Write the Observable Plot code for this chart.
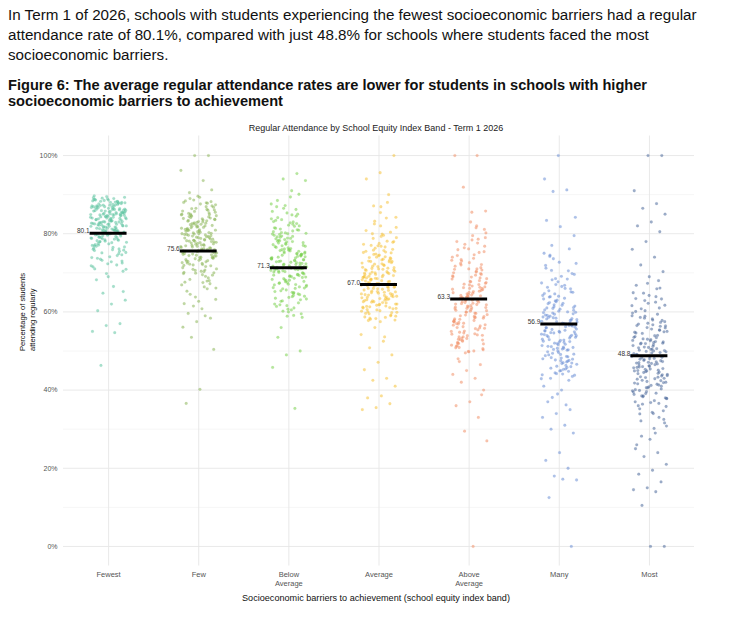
<!DOCTYPE html>
<html>
<head>
<meta charset="utf-8">
<script src="https://cdn.jsdelivr.net/npm/d3@7"></script>
<script src="https://cdn.jsdelivr.net/npm/@observablehq/plot@0.6"></script>
<style>
  body { margin: 0; background: #fff; width: 750px; height: 623px; position: relative; overflow: hidden; }
  #para { position: absolute; left: 8px; top: 5px; font: 15.2px "Liberation Sans", Arial, sans-serif; line-height: 20px; color: #111; }
  #ftitle { position: absolute; left: 8px; top: 77px; font: bold 14.6px "Liberation Sans", Arial, sans-serif; line-height: 16px; color: #111; }
  #chart { position: absolute; left: 0; top: 112px; }
</style>
</head>
<body>
<div id="para">In Term 1 of 2026, schools with students experiencing the fewest socioeconomic barriers had a regular<br>attendance rate of 80.1%, compared with just 48.8% for schools where students faced the most<br>socioeconomic barriers.</div>
<div id="ftitle">Figure 6: The average regular attendance rates are lower for students in schools with higher<br>socioeconomic barriers to achievement</div>
<div id="chart"></div>
<script>
const categories = ["Fewest", "Few", "Below\nAverage", "Average", "Above\nAverage", "Many", "Most"];
const colors = ["#5fc4a0", "#8cb75a", "#7ad14e", "#f5c23a", "#f0926a", "#6c8fd6", "#4d6b9c"];
const means = [80.1, 75.6, 71.3, 67.0, 63.3, 56.9, 48.8];
const yTicks = [0, 20, 40, 60, 80, 100];
const yMinor = [10, 30, 50, 70, 90];

const fewest = [84.2, 87.5, 79.1, 82.6, 88.9, 76.3, 85.4, 81.0, 89.3, 83.7,
78.2, 86.1, 80.5, 73.9, 84.8, 87.2, 82.1, 77.4, 85.9, 88.3,
81.6, 75.2, 83.3, 86.7, 79.8, 84.0, 71.5, 88.1, 82.9, 80.2,
85.1, 76.8, 87.9, 83.0, 78.9, 86.4, 81.3, 74.6, 84.5, 89.7,
82.4, 79.5, 85.6, 72.8, 87.0, 83.9, 80.8, 77.0, 86.2, 84.3,
70.4, 81.9, 88.6, 78.5, 85.2, 82.0, 75.9, 87.6, 83.5, 80.0,
86.9, 79.3, 73.2, 84.7, 88.0, 81.4, 76.1, 85.8, 82.7, 89.0,
78.0, 83.1, 86.5, 71.0, 80.6, 87.3, 84.1, 77.7, 82.3, 85.0,
69.8, 88.4, 81.7, 79.0, 86.0, 74.1, 83.6, 87.8, 80.3, 84.9,
76.5, 82.8, 85.5, 72.3, 88.7, 81.1, 78.7, 86.3, 83.2, 79.7,
75.5, 84.4, 87.1, 80.9, 73.5, 85.3, 82.5, 77.2, 88.2, 81.8,
70.9, 86.8, 83.8, 79.4, 84.6, 76.0, 87.4, 82.2, 80.4, 85.7,
68.2, 74.9, 78.4, 71.8, 66.5, 77.9, 73.0, 69.0, 75.7, 72.0,
64.8, 63.0, 62.0, 60.3, 57.0, 56.5, 55.0, 54.7, 46.3, 65.2,
83.4, 86.6, 80.7, 88.5, 77.8, 84.9, 82.2, 87.7, 79.6, 85.8,
81.5, 89.1, 76.6, 83.9, 86.3, 80.1, 84.4, 78.8, 87.0, 82.8,
85.4, 79.9, 88.8, 74.4, 83.1, 86.0, 81.2, 77.5, 84.7, 89.5,
82.6, 80.8, 85.9, 75.8, 87.3, 83.6, 78.3, 86.9, 81.9, 84.2,
79.2, 88.0, 82.4, 76.9, 85.1, 80.4, 87.9, 83.3, 73.7, 86.4,
81.7, 84.0, 78.6, 88.3, 82.0, 85.6, 79.7, 87.5, 80.9, 83.8,
86.2, 77.1, 84.6, 81.4, 89.2, 82.9, 75.1, 85.3, 80.0, 87.1,
83.0, 78.1, 86.7, 81.0, 84.8, 72.5, 88.6, 82.5, 79.0, 85.0];

const few = [78.3, 84.6, 72.1, 80.9, 88.2, 75.4, 69.8, 82.7, 77.0, 86.1,
73.5, 79.8, 85.3, 70.6, 81.4, 76.2, 89.0, 74.0, 83.1, 78.9,
67.9, 80.2, 87.4, 75.8, 72.9, 84.0, 79.1, 71.3, 82.0, 77.6,
86.8, 73.9, 80.6, 68.7, 85.7, 76.7, 83.5, 78.1, 74.6, 81.8,
70.1, 87.9, 79.4, 75.0, 82.4, 72.5, 84.9, 77.3, 80.0, 66.4,
85.0, 78.6, 73.2, 81.1, 76.0, 88.6, 74.3, 83.8, 79.6, 71.8,
82.9, 75.6, 69.1, 86.4, 77.9, 80.4, 73.0, 84.3, 78.0, 76.5,
81.6, 72.2, 87.1, 79.0, 74.9, 83.3, 70.9, 85.5, 77.1, 80.8,
67.2, 82.2, 75.2, 78.4, 84.7, 73.7, 81.0, 76.9, 86.0, 79.9,
71.0, 83.0, 74.4, 80.1, 77.5, 88.0, 72.8, 82.6, 75.9, 78.8,
65.3, 68.0, 63.8, 66.9, 70.3, 64.5, 69.4, 62.7, 67.6, 65.9,
61.5, 63.2, 60.8, 59.6, 58.4, 57.5, 56.1, 59.0, 53.5, 50.4,
40.2, 36.6, 100, 100, 96.2, 93.6, 90.5, 91.2, 89.6, 62.1,
79.2, 74.8, 83.6, 70.4, 81.3, 76.4, 86.5, 72.6, 78.5, 84.1,
75.3, 80.7, 88.4, 73.1, 82.5, 77.8, 69.5, 85.2, 79.5, 76.8,
83.9, 71.6, 81.9, 74.2, 87.6, 78.2, 80.3, 73.6, 84.8, 77.2,
68.3, 82.1, 75.7, 79.8, 86.2, 72.0, 80.9, 76.1, 83.2, 78.7,
74.5, 85.8, 70.7, 81.5, 77.4, 89.3, 73.4, 79.3, 82.8, 75.1,
67.5, 84.4, 78.0, 80.5, 71.9, 86.9, 76.6, 83.7, 74.0, 81.2,
79.0, 69.9, 85.0, 77.0, 82.3, 73.8, 80.0, 75.5, 87.8, 78.3,
66.1, 72.4, 83.4, 76.3, 81.7, 74.7, 79.7, 84.5, 70.0, 77.7];

const belowAverage = [74.2, 68.5, 80.1, 63.9, 77.6, 71.0, 85.3, 66.2, 73.8, 79.4,
69.7, 82.8, 61.4, 75.5, 70.3, 87.6, 64.8, 78.2, 72.4, 67.1,
81.5, 74.9, 60.2, 76.8, 69.0, 84.1, 71.9, 65.6, 79.9, 73.1,
62.7, 77.0, 68.1, 83.4, 70.8, 75.1, 66.8, 80.7, 72.9, 59.5,
78.9, 69.4, 86.2, 74.5, 64.0, 76.2, 71.4, 82.0, 67.7, 73.6,
61.0, 79.1, 70.0, 75.8, 65.2, 81.0, 72.0, 68.9, 84.8, 74.0,
63.1, 77.9, 71.7, 66.0, 80.3, 73.3, 69.2, 76.5, 62.3, 78.5,
70.6, 83.0, 67.4, 74.7, 60.7, 79.6, 72.6, 65.9, 75.3, 71.2,
88.5, 64.4, 77.3, 68.3, 81.9, 73.0, 69.9, 76.0, 63.5, 85.0,
72.2, 66.5, 78.0, 70.4, 74.3, 58.9, 80.5, 67.0, 75.9, 71.6,
89.4, 86.9, 90.1, 87.2, 83.8, 59.1, 61.8, 58.6, 60.0, 62.0,
95.4, 94.0, 93.6, 91.0, 53.5, 50.0, 49.0, 45.8, 35.3, 56.0,
73.4, 69.1, 78.7, 64.6, 76.1, 71.5, 82.4, 67.3, 74.8, 80.0,
70.2, 84.5, 62.8, 75.0, 72.7, 79.2, 66.4, 77.5, 73.9, 68.6,
81.2, 71.1, 63.7, 76.7, 69.5, 86.5, 72.3, 65.0, 78.3, 74.4,
61.6, 77.2, 70.9, 83.6, 67.8, 75.6, 72.8, 80.9, 68.2, 73.7,
64.2, 79.8, 71.3, 76.4, 66.9, 82.6, 70.5, 74.1, 60.5, 78.1,
72.5, 68.0, 85.7, 73.2, 65.4, 77.7, 71.8, 81.4, 69.6, 75.4,
63.3, 79.3, 70.1, 74.6, 67.5, 83.1, 72.1, 76.9, 66.1, 78.8,
71.0, 69.3, 80.2, 73.5, 64.9, 75.7, 68.8, 82.2, 70.7, 74.9];

const average = [69.5, 63.2, 75.8, 58.9, 72.3, 66.0, 80.4, 61.7, 68.8, 74.1,
64.9, 78.0, 60.3, 70.6, 65.5, 83.2, 62.0, 73.5, 67.4, 59.8,
76.9, 69.0, 63.8, 71.7, 57.9, 79.3, 66.7, 61.1, 74.8, 68.2,
64.2, 72.9, 60.8, 77.5, 67.9, 70.0, 62.6, 81.6, 65.8, 73.0,
59.2, 68.5, 75.2, 63.5, 71.1, 66.3, 85.4, 61.4, 69.8, 76.3,
64.6, 72.0, 58.4, 67.0, 74.4, 62.9, 70.3, 78.8, 65.1, 68.0,
60.0, 73.8, 66.9, 71.4, 63.0, 77.0, 69.3, 61.9, 75.5, 67.7,
82.5, 64.0, 70.9, 59.5, 72.6, 65.9, 68.9, 62.3, 80.0, 66.5,
86.9, 60.6, 73.2, 69.6, 63.6, 71.9, 58.1, 76.0, 67.2, 64.4,
88.0, 87.1, 84.2, 79.9, 57.8, 59.0, 60.5, 61.0, 58.6, 62.5,
100, 95.6, 94.0, 90.0, 56.0, 54.2, 52.5, 50.8, 49.0, 47.1,
45.2, 43.0, 42.5, 41.0, 38.5, 38.0, 36.5, 35.5, 35.0, 53.6,
68.4, 63.9, 74.5, 59.6, 71.2, 66.6, 79.0, 62.4, 69.1, 75.1,
65.2, 77.3, 61.5, 70.2, 67.1, 82.0, 63.1, 72.8, 68.6, 60.2,
75.7, 69.7, 64.5, 71.0, 58.7, 78.1, 66.0, 62.0, 73.3, 67.5,
64.7, 74.0, 61.2, 76.6, 68.3, 70.7, 63.4, 80.8, 66.2, 72.2,
59.9, 69.4, 73.9, 64.1, 71.6, 65.6, 84.0, 62.8, 70.4, 76.8,
63.7, 67.8, 58.3, 72.5, 65.0, 68.1, 77.8, 61.8, 70.8, 66.4,
74.7, 60.9, 69.0, 64.3, 73.6, 67.3, 62.6, 75.3, 65.3, 71.3,
57.5, 68.7, 63.3, 70.0, 66.8, 79.6, 61.3, 72.9, 64.8, 69.9];

const aboveAverage = [64.5, 58.2, 71.0, 53.6, 67.3, 61.0, 75.9, 56.4, 63.8, 69.2,
59.7, 73.4, 51.8, 66.0, 60.4, 78.6, 55.1, 68.5, 62.2, 50.9,
72.1, 64.0, 57.6, 70.2, 52.7, 76.8, 61.6, 56.0, 68.0, 63.1,
54.3, 74.6, 59.0, 65.7, 49.8, 71.7, 62.8, 57.1, 80.2, 66.6,
53.0, 69.8, 60.9, 64.9, 55.7, 73.0, 58.8, 67.8, 51.2, 62.5,
77.3, 59.3, 65.2, 54.8, 70.7, 61.3, 57.9, 82.0, 63.4, 56.7,
68.9, 52.2, 66.3, 60.0, 74.0, 58.5, 64.2, 50.3, 72.6, 62.0,
55.4, 67.1, 61.8, 79.5, 57.3, 65.5, 53.9, 70.0, 59.6, 63.7,
81.1, 83.0, 78.0, 75.2, 49.5, 51.5, 50.0, 52.9, 54.0, 76.1,
100, 100, 91.9, 85.8, 85.5, 48.0, 46.5, 45.0, 44.0, 43.0,
42.0, 40.0, 37.0, 36.0, 33.0, 29.5, 27.0, 0, 47.3, 38.8,
63.9, 57.4, 70.4, 52.5, 66.4, 60.6, 74.4, 55.9, 62.9, 68.4,
58.9, 72.4, 50.6, 65.0, 61.2, 77.6, 54.6, 67.5, 63.0, 51.9,
71.3, 64.6, 56.6, 69.4, 53.3, 75.4, 60.2, 57.0, 67.0, 62.4,
55.0, 73.7, 58.1, 66.0, 49.9, 70.9, 61.9, 56.2, 79.0, 64.3,
52.0, 68.7, 59.9, 65.8, 54.4, 72.0, 58.4, 66.9, 50.8, 63.2,
76.4, 60.3, 64.8, 53.6, 69.6, 61.5, 57.6, 81.5, 62.6, 55.8,
67.7, 51.4, 65.3, 59.2, 73.2, 57.8, 63.5, 52.8, 71.0, 60.8,
54.1, 66.2, 61.1, 78.4, 56.9, 64.1, 53.2, 69.0, 58.6, 62.1];

const many = [58.3, 51.6, 64.7, 47.2, 60.9, 54.4, 69.1, 49.8, 57.2, 62.6,
53.0, 66.8, 45.6, 59.5, 52.3, 71.9, 48.5, 61.8, 55.6, 44.1,
65.4, 57.9, 50.7, 63.3, 46.3, 68.2, 54.9, 49.1, 61.0, 56.5,
47.7, 67.4, 52.8, 58.9, 43.5, 64.0, 55.2, 50.2, 73.6, 59.9,
46.8, 62.1, 53.7, 57.5, 48.0, 66.0, 51.1, 60.4, 44.9, 56.0,
70.5, 52.0, 58.0, 47.0, 63.8, 54.0, 50.0, 75.0, 56.9, 49.4,
61.5, 45.0, 59.1, 53.3, 67.0, 51.4, 57.0, 43.0, 65.0, 55.0,
48.8, 60.0, 54.6, 72.4, 50.5, 58.6, 46.0, 63.0, 52.5, 56.2,
77.0, 79.5, 81.8, 83.4, 42.5, 44.4, 42.9, 45.3, 74.2, 69.8,
100, 94.0, 91.2, 90.8, 84.2, 40.0, 37.0, 35.0, 34.0, 33.0,
31.0, 30.0, 29.0, 24.0, 22.0, 20.0, 18.0, 17.0, 17.2, 12.5,
0, 39.0, 41.0, 36.2, 38.1, 43.8, 47.5, 53.9, 76.1, 68.5,
57.6, 52.2, 63.9, 47.9, 60.2, 55.1, 68.4, 50.4, 56.7, 61.7,
53.6, 65.9, 46.1, 58.7, 51.7, 70.6, 49.2, 60.7, 55.9, 44.8,
64.6, 57.4, 51.0, 62.4, 46.9, 67.7, 54.2, 48.6, 59.7, 56.1,
48.2, 66.3, 52.4, 58.4, 43.9, 63.5, 54.7, 50.9, 72.7, 59.2,
47.4, 61.3, 53.9, 57.1, 49.0, 65.1, 51.9, 59.8, 45.4, 55.5,
69.6, 52.7, 58.2, 47.6, 62.8, 54.3, 50.7, 74.5, 56.4, 49.6,
60.5, 45.8, 58.5, 53.5, 66.5, 51.2, 57.8, 44.2, 64.2, 55.3,
48.3, 61.1, 54.8, 71.2, 50.3, 59.4, 46.6, 62.2, 52.9, 56.6];

const most = [50.2, 43.6, 57.1, 38.9, 53.4, 46.0, 61.7, 41.2, 49.0, 55.3,
44.7, 59.0, 37.3, 51.8, 45.5, 64.2, 40.1, 54.0, 47.6, 35.8,
58.2, 50.8, 42.4, 56.0, 39.5, 62.5, 48.3, 43.0, 52.6, 46.9,
36.6, 60.3, 44.0, 50.0, 33.9, 57.8, 47.1, 41.8, 65.9, 53.1,
38.0, 55.6, 45.0, 49.6, 40.6, 59.7, 42.9, 52.0, 34.7, 48.0,
63.4, 44.3, 51.0, 37.9, 56.7, 46.4, 41.0, 67.3, 49.3, 39.2,
54.5, 31.6, 52.9, 45.8, 61.0, 43.2, 48.6, 30.2, 58.6, 47.3,
40.8, 53.7, 46.7, 64.8, 42.0, 50.5, 36.0, 57.3, 44.9, 51.4,
29.0, 28.2, 32.5, 27.4, 66.8, 68.0, 62.9, 55.0, 34.0, 39.9,
100, 100, 91.0, 87.7, 86.5, 85.0, 83.0, 82.0, 80.5, 78.0,
76.0, 74.0, 72.0, 70.3, 69.0, 25.0, 24.0, 23.0, 21.0, 19.5,
18.5, 16.5, 15.0, 14.5, 14.0, 10.5, 0, 0, 26.0, 33.0,
45.3, 48.9, 52.2, 47.9, 43.9, 50.9, 54.8, 41.5, 38.5, 56.4,
49.5, 44.2, 56.3, 39.6, 52.7, 46.5, 60.8, 41.9, 48.5, 54.6,
45.1, 58.4, 37.8, 51.2, 45.9, 63.3, 40.6, 53.5, 47.2, 36.4,
57.5, 50.4, 42.8, 55.4, 39.1, 61.6, 48.1, 43.4, 52.0, 46.2,
37.0, 59.4, 44.5, 49.8, 34.3, 56.9, 47.5, 42.2, 64.9, 52.4,
38.5, 54.9, 45.4, 49.1, 41.3, 58.9, 43.7, 51.6, 35.2, 48.4,
62.2, 44.9, 50.6, 38.3, 55.9, 46.8, 41.6, 66.1, 49.9, 39.8,
53.9, 32.1, 52.3, 46.1, 60.1, 43.3, 47.8, 30.8, 57.9, 47.0,
40.3, 53.0, 45.7, 63.9, 42.5, 50.1, 36.8, 56.5, 44.6, 51.9];

const series = [fewest, few, belowAverage, average, aboveAverage, many, most];

// Build the point table; horizontal jitter is a deterministic spread within each band
const points = [];
series.forEach((vals, c) => {
  vals.forEach((v, i) => {
    const u = ((i * 0.6180339887 + c * 0.37) % 1) - 0.5;
    points.push({cat: c + 1, x: c + 1 + u * 0.4, value: v, color: colors[c]});
  });
});
const meanRows = means.map((m, c) => ({cat: c + 1, m}));

const font = "Liberation Sans, Arial, sans-serif";

const chart = Plot.plot({
  width: 750,
  height: 500,
  marginLeft: 63,
  marginRight: 56,
  marginTop: 23.5,
  marginBottom: 46.5,
  style: {fontFamily: font, background: "white", overflow: "visible"},
  x: {domain: [0.5, 7.5], axis: null},
  y: {domain: [-5, 105], axis: null},
  marks: [
    Plot.ruleY(yMinor, {stroke: "#f4f4f4", strokeWidth: 0.8}),
    Plot.ruleY(yTicks, {stroke: "#e6e6e6", strokeWidth: 0.9}),
    Plot.ruleX(d3.range(1, 8), {stroke: "#e6e6e6", strokeWidth: 0.9}),
    Plot.dot(points, {x: "x", y: "value", r: 1.4, fill: "color", fillOpacity: 0.55, stroke: "color", strokeOpacity: 0.25, strokeWidth: 0.4}),
    Plot.ruleY(meanRows, {y: "m", x1: d => d.cat - 0.205, x2: d => d.cat + 0.205, stroke: "black", strokeWidth: 3}),
    Plot.text(meanRows, {x: d => d.cat - 0.205, y: "m", text: d => d.m.toFixed(1), textAnchor: "end", dy: -2, dx: -0.5, fontSize: 6.5, fill: "#333"}),
    Plot.axisY({ticks: yTicks, tickFormat: d => d + "%", tickSize: 0, tickPadding: 6, fontSize: 7, color: "#555", label: null}),
    Plot.axisX({ticks: d3.range(1, 8), tickFormat: d => categories[d - 1], tickSize: 0, tickPadding: 5, fontSize: 7.5, color: "#555", label: null, lineHeight: 1.2}),
    Plot.text(["Percentage of students\nattending regularly"], {frameAnchor: "left", rotate: -90, dx: -37, fontSize: 7.6, fill: "#111", lineHeight: 1.35}),
    Plot.text(["Regular Attendance by School Equity Index Band - Term 1 2026"], {frameAnchor: "top", dx: -3, dy: -11, fontSize: 9, fill: "#222"}),
    Plot.text(["Socioeconomic barriers to achievement (school equity index band)"], {frameAnchor: "bottom", dx: -3, dy: 34.5, fontSize: 9.1, fill: "#111"})
  ]
});
document.getElementById("chart").appendChild(chart);
</script>
</body>
</html>
